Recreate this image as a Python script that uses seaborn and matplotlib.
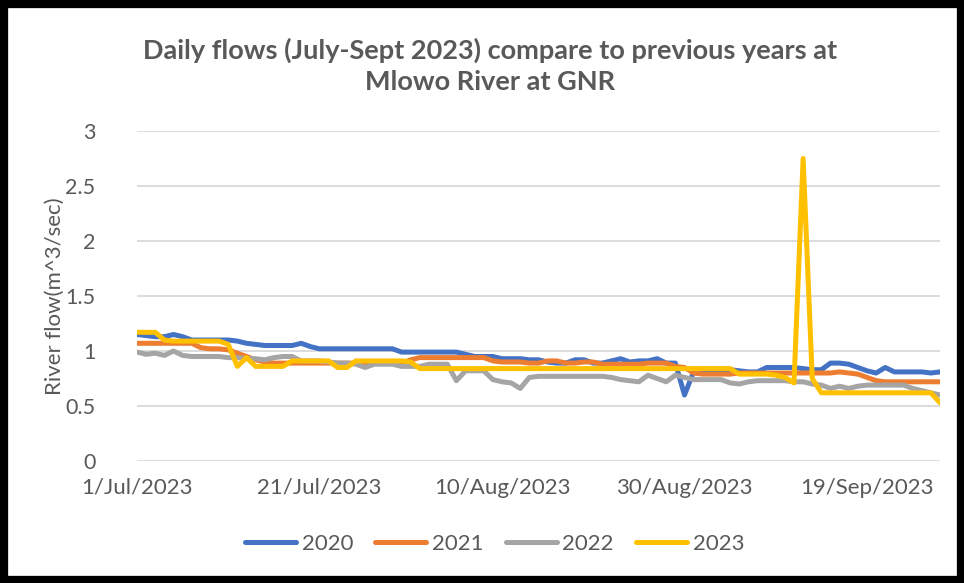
import matplotlib
matplotlib.use("Agg")
import matplotlib.pyplot as plt
import matplotlib.dates as mdates
from matplotlib.patches import Rectangle
import seaborn as sns
import pandas as pd

# daily flows, 1 Jul -> 27 Sep
dates = pd.date_range("2023-07-01", "2023-09-27", freq="D")

flow_2020 = [1.15, 1.14, 1.13, 1.13, 1.15, 1.13, 1.10, 1.10, 1.10, 1.10,
             1.10, 1.09, 1.07, 1.06, 1.05, 1.05, 1.05, 1.05, 1.07, 1.04,
             1.02, 1.02, 1.02, 1.02, 1.02, 1.02, 1.02, 1.02, 1.02, 0.99,
             0.99, 0.99, 0.99, 0.99, 0.99, 0.99, 0.97, 0.95, 0.95, 0.95,
             0.93, 0.93, 0.93, 0.92, 0.92, 0.90, 0.89, 0.89, 0.92, 0.92,
             0.89, 0.89, 0.91, 0.93, 0.90, 0.91, 0.91, 0.93, 0.89, 0.89,
             0.60, 0.81, 0.83, 0.83, 0.83, 0.83, 0.82, 0.81, 0.81, 0.85,
             0.85, 0.85, 0.85, 0.84, 0.83, 0.83, 0.89, 0.89, 0.88, 0.85,
             0.82, 0.80, 0.85, 0.81, 0.81, 0.81, 0.81, 0.80, 0.81]

flow_2021 = [1.07, 1.07, 1.07, 1.07, 1.07, 1.07, 1.07, 1.03, 1.02, 1.02,
             1.01, 0.98, 0.95, 0.92, 0.90, 0.89, 0.89, 0.89, 0.89, 0.89,
             0.89, 0.89, 0.89, 0.89, 0.89, 0.89, 0.89, 0.89, 0.89, 0.89,
             0.92, 0.94, 0.94, 0.94, 0.94, 0.94, 0.94, 0.94, 0.94, 0.91,
             0.90, 0.90, 0.90, 0.89, 0.89, 0.91, 0.91, 0.89, 0.89, 0.90,
             0.90, 0.88, 0.88, 0.88, 0.88, 0.88, 0.89, 0.89, 0.89, 0.86,
             0.85, 0.80, 0.79, 0.79, 0.79, 0.79, 0.80, 0.80, 0.80, 0.80,
             0.80, 0.80, 0.80, 0.80, 0.80, 0.80, 0.80, 0.81, 0.80, 0.79,
             0.76, 0.73, 0.72, 0.72, 0.72, 0.72, 0.72, 0.72, 0.72]

flow_2022 = [0.99, 0.97, 0.98, 0.96, 1.00, 0.96, 0.95, 0.95, 0.95, 0.95,
             0.94, 0.94, 0.93, 0.93, 0.92, 0.94, 0.95, 0.95, 0.91, 0.91,
             0.91, 0.90, 0.89, 0.89, 0.88, 0.85, 0.88, 0.88, 0.88, 0.86,
             0.86, 0.86, 0.88, 0.88, 0.88, 0.73, 0.82, 0.82, 0.82, 0.74,
             0.72, 0.71, 0.66, 0.76, 0.77, 0.77, 0.77, 0.77, 0.77, 0.77,
             0.77, 0.77, 0.76, 0.74, 0.73, 0.72, 0.78, 0.75, 0.72, 0.78,
             0.76, 0.74, 0.74, 0.74, 0.74, 0.71, 0.70, 0.72, 0.73, 0.73,
             0.73, 0.73, 0.72, 0.72, 0.70, 0.69, 0.66, 0.68, 0.66, 0.68,
             0.69, 0.69, 0.69, 0.69, 0.69, 0.66, 0.64, 0.62, 0.60]

flow_2023 = [1.17, 1.17, 1.17, 1.10, 1.09, 1.09, 1.09, 1.09, 1.09, 1.09,
             1.06, 0.86, 0.94, 0.86, 0.86, 0.86, 0.86, 0.91, 0.91, 0.91,
             0.91, 0.91, 0.85, 0.85, 0.91, 0.91, 0.91, 0.91, 0.91, 0.91,
             0.90, 0.84, 0.84, 0.84, 0.84, 0.84, 0.84, 0.84, 0.84, 0.84,
             0.84, 0.84, 0.84, 0.84, 0.84, 0.84, 0.84, 0.84, 0.84, 0.84,
             0.84, 0.84, 0.84, 0.84, 0.84, 0.84, 0.84, 0.84, 0.84, 0.84,
             0.84, 0.84, 0.84, 0.84, 0.84, 0.84, 0.79, 0.79, 0.79, 0.79,
             0.78, 0.76, 0.71, 2.75, 0.75, 0.62, 0.62, 0.62, 0.62, 0.62,
             0.62, 0.62, 0.62, 0.62, 0.62, 0.62, 0.62, 0.62, 0.53]

years = ["2020", "2021", "2022", "2023"]
colors = ["#4472C4", "#ED7D31", "#A5A5A5", "#FFC000"]
tick_dates = pd.date_range("2023-07-01", periods=5, freq="20D")

frames = []
for yr, vals in zip(years, [flow_2020, flow_2021, flow_2022, flow_2023]):
    frames.append(pd.DataFrame({"date": dates, "flow": vals, "year": yr}))
df = pd.concat(frames, ignore_index=True)

sns.set_theme(style="white")
plt.rcParams["font.family"] = ["Lato", "DejaVu Sans"]
text_col = "#595959"

fig = plt.figure(figsize=(9.64, 5.83), dpi=100)
ax = fig.add_axes([137 / 964, 1 - 461 / 583, 803 / 964, 330 / 583])

sns.lineplot(data=df, x="date", y="flow", hue="year", palette=colors,
             linewidth=3.6, ax=ax, solid_joinstyle="round", solid_capstyle="round")

ax.set_xlim(dates[0], dates[-1])
ax.set_ylim(0, 3)
ax.set_yticks([0, 0.5, 1, 1.5, 2, 2.5, 3])
ax.set_yticklabels(["0", "0.5", "1", "1.5", "2", "2.5", "3"])
ax.set_xticks(tick_dates)
ax.xaxis.set_major_formatter(mdates.DateFormatter("%-d/%b/%Y"))
ax.grid(axis="y", color="#D9D9D9", linewidth=1.3)
ax.grid(axis="x", visible=False)
for s in ax.spines.values():
    s.set_visible(False)
ax.tick_params(axis="x", length=0, pad=12, labelsize=16, labelcolor=text_col)
ax.tick_params(axis="y", length=0, pad=30, labelsize=15.5, labelcolor=text_col)

ax.set_xlabel("")
ax.set_ylabel("River flow(m^3/sec)", fontsize=16, color=text_col)
ax.yaxis.set_label_coords(-0.09, 0.5)

handles, labels = ax.get_legend_handles_labels()
ax.legend(handles, labels, loc="center", bbox_to_anchor=(0.513, 0.067),
          bbox_transform=fig.transFigure, ncol=4, frameon=False,
          fontsize=16, handlelength=2.3, handletextpad=0.25,
          columnspacing=1.0, labelcolor=text_col)

fig.text(490 / 964, 1 - 65.5 / 583,
         "Daily flows (July-Sept 2023) compare to previous years at\nMlowo River at GNR",
         ha="center", va="center", fontsize=19.5, fontweight="bold",
         color=text_col, linespacing=1.35)

fig.patches.append(Rectangle((0, 0), 1, 1, transform=fig.transFigure,
                             fill=False, edgecolor="black", linewidth=11))

fig.savefig("out.png", dpi=100)
